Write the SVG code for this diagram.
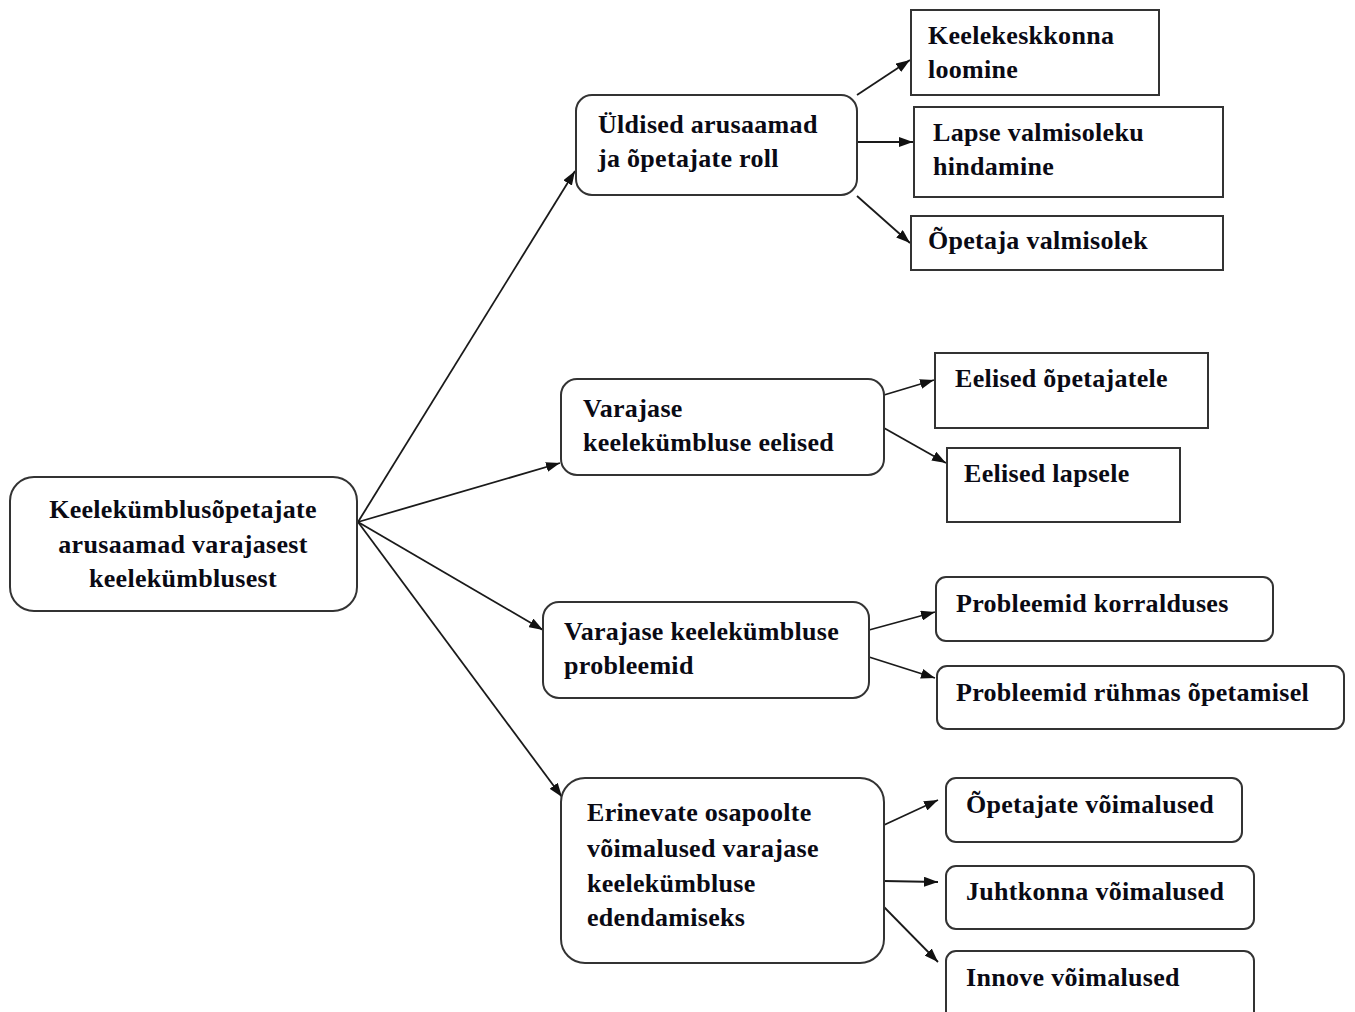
<svg xmlns="http://www.w3.org/2000/svg" width="1355" height="1012" viewBox="0 0 1355 1012">
<defs>
<marker id="ah" viewBox="0 0 14 10" refX="14" refY="5" markerWidth="14" markerHeight="10" markerUnits="userSpaceOnUse" orient="auto">
<path d="M0,0 L14,5 L0,10 Z" fill="#111"/>
</marker>
</defs>
<style>
.box{fill:#fff;stroke:#333;stroke-width:2}
.t{font-family:"Liberation Serif","Times New Roman",serif;font-weight:bold;font-size:26px;letter-spacing:0.3px;fill:#0a0a14}
.c{text-anchor:middle}
.ln{stroke:#1a1a1a;stroke-width:1.8;fill:none;marker-end:url(#ah)}
</style>
<rect width="1355" height="1012" fill="#fff"/>
<g id="connectors">
<line class="ln" x1="358" y1="522" x2="575" y2="171"/>
<line class="ln" x1="358" y1="522" x2="560" y2="463"/>
<line class="ln" x1="358" y1="522" x2="543" y2="630"/>
<line class="ln" x1="358" y1="522" x2="562" y2="797"/>
<line class="ln" x1="857" y1="95" x2="910" y2="60"/>
<line class="ln" x1="857" y1="142" x2="913" y2="142"/>
<line class="ln" x1="857" y1="196" x2="910" y2="243"/>
<line class="ln" x1="884" y1="395" x2="934" y2="380"/>
<line class="ln" x1="884" y1="428" x2="946" y2="463"/>
<line class="ln" x1="869" y1="630" x2="935" y2="612"/>
<line class="ln" x1="869" y1="657" x2="935" y2="678"/>
<line class="ln" x1="884" y1="825" x2="938" y2="800"/>
<line class="ln" x1="884" y1="881" x2="938" y2="882"/>
<line class="ln" x1="884" y1="907" x2="938" y2="962"/>
</g>
<g id="root">
<rect class="box" x="10" y="477" width="347" height="134" rx="24"/>
<text class="t c" x="183" y="518">Keelekümblusõpetajate</text>
<text class="t c" x="183" y="553">arusaamad varajasest</text>
<text class="t c" x="183" y="587">keelekümblusest</text>
</g>
<g id="n-uldised">
<rect class="box" x="576" y="95" width="281" height="100" rx="16"/>
<text class="t" x="598" y="133">Üldised arusaamad</text>
<text class="t" x="598" y="167">ja õpetajate roll</text>
</g>
<g id="n-eelised">
<rect class="box" x="561" y="379" width="323" height="96" rx="16"/>
<text class="t" x="583" y="417">Varajase</text>
<text class="t" x="583" y="451">keelekümbluse eelised</text>
</g>
<g id="n-probleemid">
<rect class="box" x="543" y="602" width="326" height="96" rx="16"/>
<text class="t" x="564" y="640">Varajase keelekümbluse</text>
<text class="t" x="564" y="674">probleemid</text>
</g>
<g id="n-erinevate">
<rect class="box" x="561" y="778" width="323" height="185" rx="24"/>
<text class="t" x="587" y="821">Erinevate osapoolte</text>
<text class="t" x="587" y="857">võimalused varajase</text>
<text class="t" x="587" y="892">keelekümbluse</text>
<text class="t" x="587" y="926">edendamiseks</text>
</g>
<g id="l-keelekeskkonna">
<rect class="box" x="911" y="10" width="248" height="85"/>
<text class="t" x="928" y="44">Keelekeskkonna</text>
<text class="t" x="928" y="78">loomine</text>
</g>
<g id="l-lapse">
<rect class="box" x="914" y="107" width="309" height="90"/>
<text class="t" x="933" y="141">Lapse valmisoleku</text>
<text class="t" x="933" y="175">hindamine</text>
</g>
<g id="l-opetaja">
<rect class="box" x="911" y="216" width="312" height="54"/>
<text class="t" x="928" y="249">Õpetaja valmisolek</text>
</g>
<g id="l-eelised-opetajatele">
<rect class="box" x="935" y="353" width="273" height="75"/>
<text class="t" x="955" y="387">Eelised õpetajatele</text>
</g>
<g id="l-eelised-lapsele">
<rect class="box" x="947" y="448" width="233" height="74"/>
<text class="t" x="964" y="482">Eelised lapsele</text>
</g>
<g id="l-korralduses">
<rect class="box" x="936" y="577" width="337" height="64" rx="10"/>
<text class="t" x="956" y="612">Probleemid korralduses</text>
</g>
<g id="l-ruhmas">
<rect class="box" x="937" y="666" width="407" height="63" rx="10"/>
<text class="t" x="956" y="701">Probleemid rühmas  õpetamisel</text>
</g>
<g id="l-opetajate-voimalused">
<rect class="box" x="946" y="778" width="296" height="64" rx="10"/>
<text class="t" x="966" y="813">Õpetajate võimalused</text>
</g>
<g id="l-juhtkonna">
<rect class="box" x="946" y="866" width="308" height="63" rx="10"/>
<text class="t" x="966" y="900">Juhtkonna võimalused</text>
</g>
<g id="l-innove">
<rect class="box" x="946" y="951" width="308" height="70" rx="10"/>
<text class="t" x="966" y="986">Innove võimalused</text>
</g>
</svg>
